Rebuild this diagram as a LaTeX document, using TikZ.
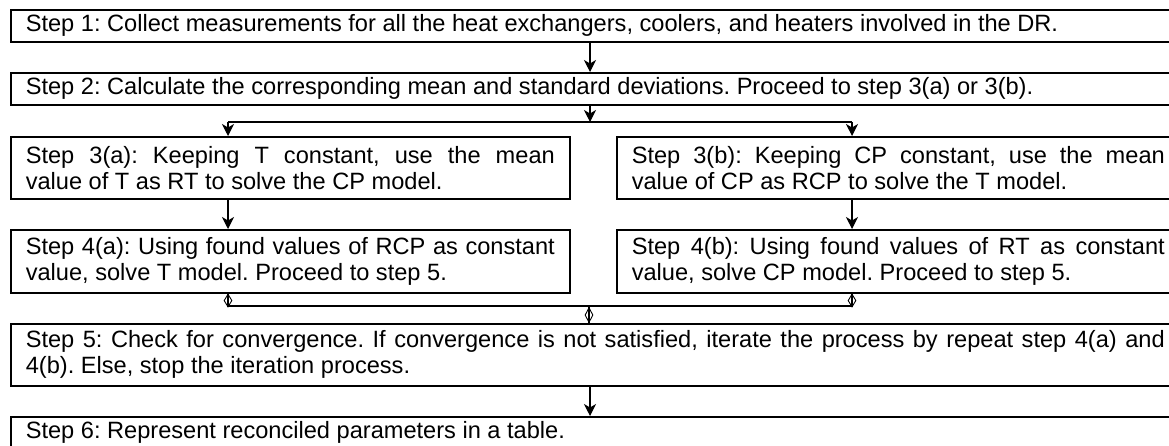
\documentclass[tikz,border=0pt]{standalone}
\usepackage{fontspec}
\setmainfont{Liberation Sans}
\usetikzlibrary{arrows.meta,shapes.geometric}
\frenchspacing
\begin{document}
\begin{tikzpicture}[x=1pt,y=-1pt,
  stepbox/.style={draw, line width=1.6pt, rectangle, anchor=north west,
    inner xsep=15pt, inner ysep=0pt, align=justify,
    font=\fontsize{23.6}{26}\selectfont},
  conn/.style={line width=1.1pt},
  arr/.style={line width=1.1pt, -{Stealth[length=12pt,width=12pt,inset=3.5pt]}},
  dmd/.style={draw, diamond, line width=0.9pt, inner sep=0pt, minimum width=8pt, minimum height=13pt}]
\useasboundingbox (0,0) rectangle (1169,446);
\clip (0,0) rectangle (1169,446);
\node[stepbox, text width=1139pt, minimum height=32pt] (s1) at (10,9)
  {Step 1: Collect measurements for all the heat exchangers, coolers, and heaters involved in the DR.};
\node[stepbox, text width=1139pt, minimum height=32pt] (s2) at (10,72)
  {Step 2: Calculate the corresponding mean and standard deviations. Proceed to step 3(a) or 3(b).};
\node[stepbox, text width=529pt, minimum height=62pt] (s3a) at (10,136)
  {Step 3(a): Keeping T constant, use the mean\linebreak value of T as RT to solve the CP model.};
\node[stepbox, text width=533pt, minimum height=62pt] (s3b) at (616,136)
  {Step 3(b): Keeping CP constant, use the mean\linebreak value of CP as RCP to solve the T model.};
\node[stepbox, text width=529pt, minimum height=63pt] (s4a) at (10,229)
  {Step 4(a): Using found values of RCP as constant\linebreak value, solve T model. Proceed to step 5.};
\node[stepbox, text width=533pt, minimum height=63pt] (s4b) at (616,229)
  {Step 4(b): Using found values of RT as constant\linebreak value, solve CP model. Proceed to step 5.};
\node[stepbox, text width=1139pt, minimum height=62pt] (s5) at (10,323)
  {Step 5: Check for convergence. If convergence is not satisfied, iterate the process by repeat step 4(a) and\linebreak 4(b). Else, stop the iteration process.};
\node[stepbox, text width=1139pt, minimum height=32pt] (s6) at (10,416)
  {Step 6: Represent reconciled parameters in a table.};
% connectors
\coordinate (cx) at (590,0);
\coordinate (jm) at (590,122);
\coordinate (ja) at (228,122);
\coordinate (jb) at (852,122);
\draw[arr] (s1.south -| cx) -- (s2.north -| cx);
\draw[arr] (s2.south -| cx) -- (jm);
\draw[conn] (ja) -- (jb);
\draw[arr] (ja) -- (ja |- s3a.north);
\draw[arr] (jb) -- (jb |- s3b.north);
\draw[arr] (ja |- s3a.south) -- (ja |- s4a.north);
\draw[arr] (jb |- s3b.south) -- (jb |- s4b.north);
\coordinate (ka) at (228,306);
\coordinate (kb) at (852,306);
\coordinate (km) at (589,306);
\draw[conn] (ka |- s4a.south) -- (ka) -- (kb) -- (kb |- s4b.south);
\draw[conn] (km) -- (km |- s5.north);
\node[dmd, anchor=north] (da) at (ka |- s4a.south) {};
\node[dmd, anchor=north] (db) at (kb |- s4b.south) {};
\node[dmd, anchor=south, minimum height=15pt] (dm) at (km |- s5.north) {};
\draw[arr] (s5.south -| cx) -- (s6.north -| cx);
\end{tikzpicture}
\end{document}
